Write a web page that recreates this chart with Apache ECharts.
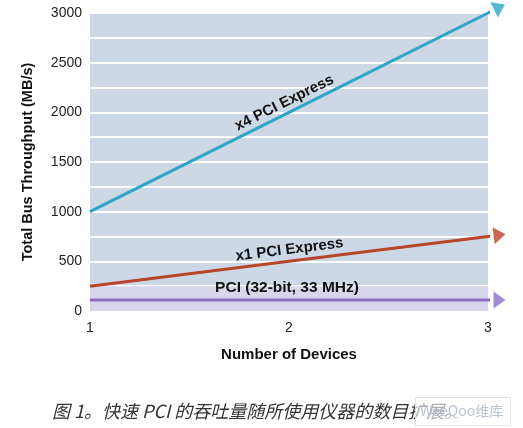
<!DOCTYPE html>
<html>
<head>
<meta charset="utf-8">
<script src="https://cdn.jsdelivr.net/npm/echarts@6/dist/echarts.min.js"></script>
<style>
  html, body { margin: 0; padding: 0; background: #fff; }
  #main { width: 523px; height: 428px; }
</style>
</head>
<body>
<div id="main"></div>
<script>
var devices = [1, 2, 3];
var x4Values = [1000, 2000, 3000];
var x1Values = [250, 500, 750];
var pciValues = [110, 110, 110];
var lineNames = ['x4 PCI Express', 'x1 PCI Express', 'PCI (32-bit, 33 MHz)'];
var caption = '图 1。快速 PCI 的吞吐量随所使用仪器的数目扩展。';
var watermark = 'WeeQoo维库';

var sans = '"Liberation Sans", Arial, sans-serif';
var colors = ['#2aa5c6', '#bb432a', '#8b6ec3'];
var EXT = 0.058; // how far the arrow heads stick out past x = 3

var myChart = echarts.init(document.getElementById('main'));

// end of the little run past the last point, same slope as the last segment
function endPoint(vals) {
    var n = vals.length;
    var slope = (vals[n - 1] - vals[n - 2]) / (devices[n - 1] - devices[n - 2]);
    return [devices[n - 1] + EXT, vals[n - 1] + slope * EXT];
}

function lineSeries(name, vals, color) {
    var pts = devices.map(function (d, i) { return [d, vals[i]]; });
    pts.push(endPoint(vals));
    return {
        name: name,
        type: 'line',
        data: pts,
        showSymbol: false,
        symbol: 'none',
        clip: false,
        silent: true,
        z: 3,
        lineStyle: { color: color, width: 3 }
    };
}

var sp = lineSeries(lineNames[2], pciValues, colors[2]);
sp.markArea = {
    silent: true,
    itemStyle: { color: '#d8d6ed' },
    data: [[{ yAxis: 0 }, { yAxis: 250 }]]
};

var option = {
    animation: false,
    grid: {
        left: 90, right: 35, top: 13, bottom: 117,
        show: true, backgroundColor: '#cdd8e6', borderWidth: 0
    },
    xAxis: {
        type: 'value',
        min: 1, max: 3, interval: 1,
        name: 'Number of Devices',
        nameLocation: 'middle',
        nameGap: 36,
        nameTextStyle: { fontFamily: sans, fontWeight: 'bold', fontSize: 15, color: '#111' },
        axisLine: { show: false },
        axisTick: { show: false },
        splitLine: { show: false },
        axisLabel: { fontFamily: sans, fontSize: 14, color: '#222', margin: 10 }
    },
    yAxis: {
        type: 'value',
        min: 0, max: 3000, interval: 250,
        name: 'Total Bus Throughput (MB/s)',
        nameLocation: 'middle',
        nameGap: 55,
        nameTextStyle: { fontFamily: sans, fontWeight: 'bold', fontSize: 14.5, color: '#111' },
        axisLine: { show: false },
        axisTick: { show: false },
        splitLine: { show: true, lineStyle: { color: '#ffffff', width: 2 } },
        axisLabel: {
            fontFamily: sans, fontSize: 14, color: '#222', margin: 8,
            formatter: function (v) { return v % 500 === 0 ? v : ''; }
        }
    },
    series: [
        lineSeries(lineNames[0], x4Values, colors[0]),
        lineSeries(lineNames[1], x1Values, colors[1]),
        sp
    ]
};
myChart.setOption(option);

function px(pt) {
    return myChart.convertToPixel({ gridIndex: 0 }, pt);
}

// arrow head sitting on the end point, turned along the line
function arrowHead(vals, color) {
    var n = vals.length;
    var end = endPoint(vals);
    var a = px([devices[n - 1], vals[n - 1]]);
    var b = px(end);
    var ang = Math.atan2(a[1] - b[1], b[0] - a[0]) * 180 / Math.PI;
    return { value: end, symbolRotate: ang - 90, itemStyle: { color: color } };
}

// line labels sit just above their line, turned to the line's slope
function lineLabel(vals, lx, gap, text, size) {
    var i = lx < devices[1] ? 0 : 1;
    var t = (lx - devices[i]) / (devices[i + 1] - devices[i]);
    var v = vals[i] + t * (vals[i + 1] - vals[i]);
    var p = px([lx, v]);
    var a = px([devices[i], vals[i]]);
    var b = px([devices[i + 1], vals[i + 1]]);
    var ang = Math.atan2(a[1] - b[1], b[0] - a[0]);
    return {
        type: 'text',
        x: p[0] - gap * Math.sin(ang),
        y: p[1] - gap * Math.cos(ang),
        rotation: ang,
        z: 10,
        style: {
            text: text,
            align: 'center',
            verticalAlign: 'bottom',
            fontFamily: sans,
            fontWeight: 'bold',
            fontSize: size,
            fill: '#111'
        }
    };
}

myChart.setOption({
    series: [{}, {}, {}, {
        name: 'arrows',
        type: 'scatter',
        symbol: 'triangle',
        symbolSize: [17, 12],
        clip: false,
        silent: true,
        z: 4,
        data: [
            arrowHead(x4Values, colors[0]),
            arrowHead(x1Values, colors[1]),
            arrowHead(pciValues, colors[2])
        ]
    }],
    graphic: [
        lineLabel(x4Values, 2.0, 3, lineNames[0], 15),
        lineLabel(x1Values, 2.01, 4, lineNames[1], 15),
        lineLabel(pciValues, 1.99, 4, lineNames[2], 15.5),
        {
            type: 'text', left: 52, top: 402, z: 10,
            style: {
                text: caption, fontFamily: '"Noto Sans CJK SC", sans-serif',
                fontStyle: 'italic', fontSize: 18, fill: '#333'
            }
        },
        {
            type: 'rect', left: 415, top: 397, z: 11,
            shape: { width: 95, height: 28 },
            style: { fill: 'rgba(255,255,255,0.6)', stroke: '#e2e2e2', lineWidth: 1 }
        },
        {
            type: 'text', left: 420, top: 404, z: 12,
            style: {
                text: watermark, fontFamily: '"Noto Sans CJK SC", sans-serif',
                fontSize: 14, fill: '#b9c3d1'
            }
        }
    ]
});
</script>
</body>
</html>
